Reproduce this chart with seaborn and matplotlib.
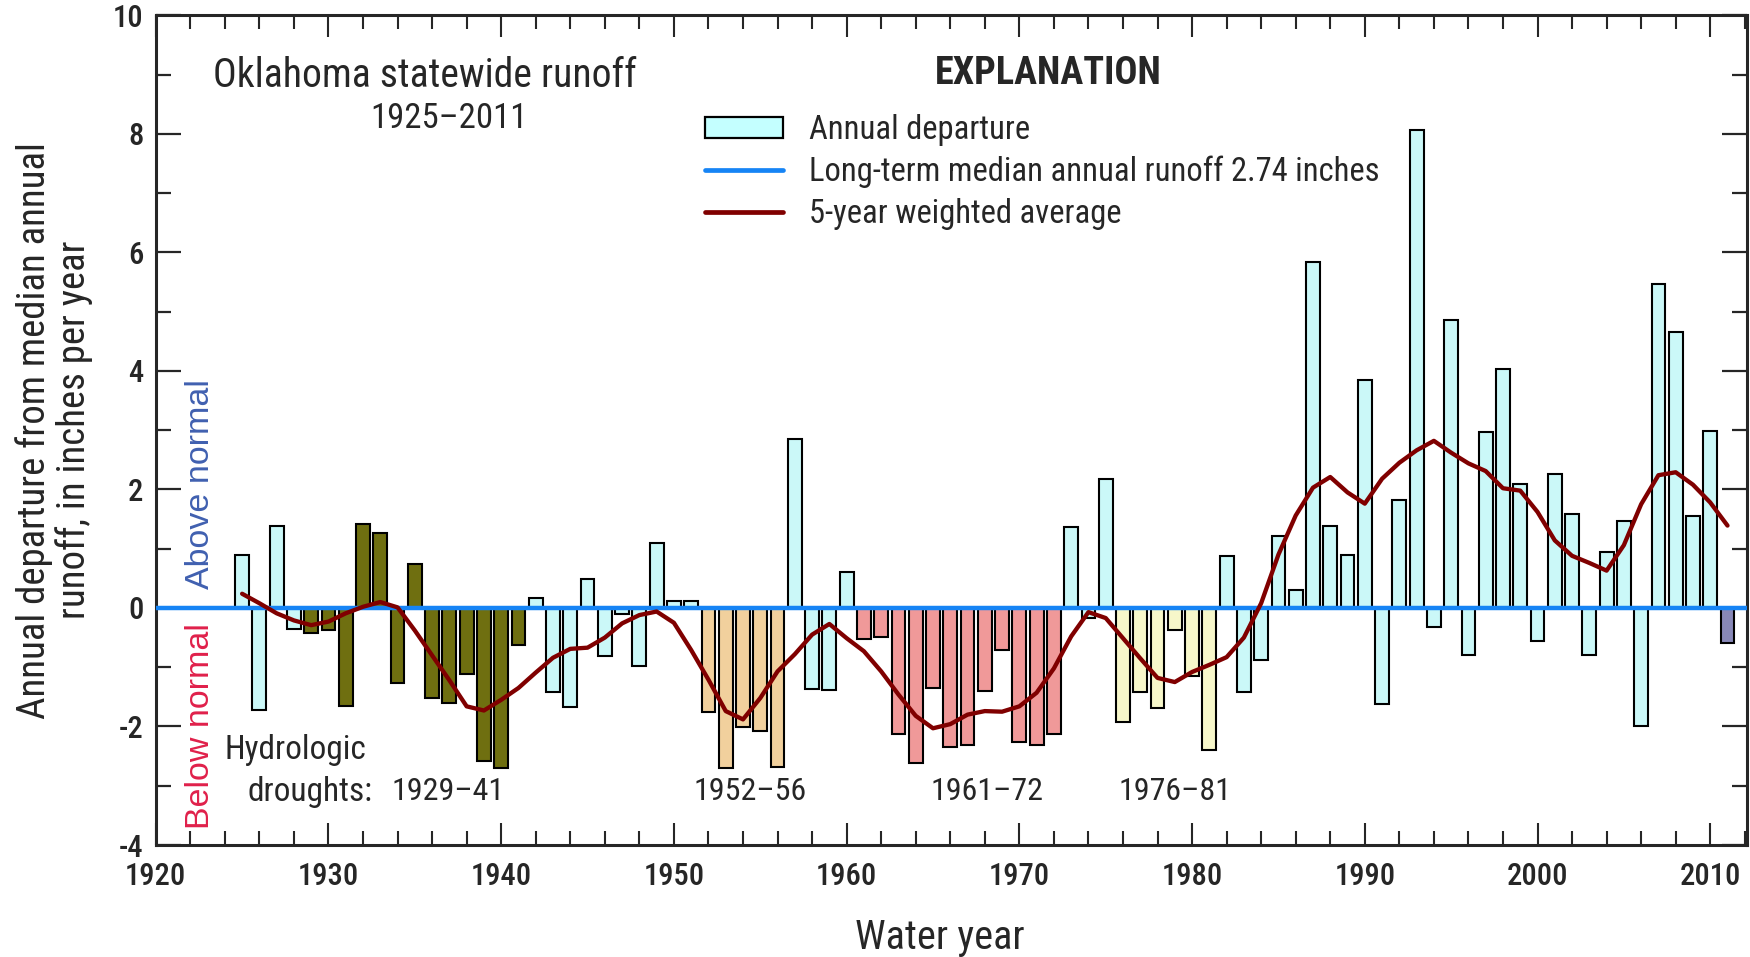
import numpy as np
import pandas as pd
import matplotlib
matplotlib.use("Agg")
import matplotlib.pyplot as plt
from matplotlib import font_manager
from matplotlib.patches import Patch
from matplotlib.lines import Line2D
from matplotlib.ticker import MultipleLocator
import seaborn as sns

# ---------------------------------------------------------------- data
years = list(range(1925, 2012))

# annual departure from the long-term median runoff (inches)
departure = [
    0.90, -1.72, 1.39, -0.35, -0.42, -0.37, -1.65, 1.41, 1.26, -1.26,   # 1925-1934
    0.74, -1.52, -1.60, -1.12, -2.59, -2.70, -0.62, 0.16, -1.42, -1.67,  # 1935-1944
    0.49, -0.81, -0.11, -0.98, 1.10, 0.12, 0.11, -1.76, -2.70, -2.01,    # 1945-1954
    -2.08, -2.69, 2.85, -1.37, -1.39, 0.61, -0.52, -0.49, -2.12, -2.62,  # 1955-1964
    -1.35, -2.34, -2.31, -1.40, -0.71, -2.26, -2.31, -2.13, 1.36, -0.17, # 1965-1974
    2.17, -1.93, -1.41, -1.68, -0.38, -1.14, -2.39, 0.87, -1.41, -0.88,  # 1975-1984
    1.22, 0.31, 5.84, 1.39, 0.89, 3.85, -1.62, 1.82, 8.06, -0.32,        # 1985-1994
    4.86, -0.79, 2.97, 4.04, 2.09, -0.56, 2.26, 1.59, -0.79, 0.94,       # 1995-2004
    1.46, -2.00, 5.47, 4.66, 1.55, 2.99, -0.59,                          # 2005-2011
]

# 5-year weighted average of the departures (inches)
weighted_avg = [
    0.24, 0.08, -0.09, -0.21, -0.29, -0.23, -0.09, 0.02, 0.10, 0.01,    # 1925-1934
    -0.38, -0.80, -1.22, -1.66, -1.73, -1.55, -1.35, -1.09, -0.84, -0.69, # 1935-1944
    -0.67, -0.50, -0.26, -0.12, -0.06, -0.25, -0.71, -1.21, -1.74, -1.88, # 1945-1954
    -1.52, -1.07, -0.78, -0.45, -0.27, -0.51, -0.73, -1.07, -1.46, -1.82, # 1955-1964
    -2.03, -1.96, -1.80, -1.74, -1.75, -1.66, -1.43, -1.02, -0.48, -0.07, # 1965-1974
    -0.17, -0.51, -0.85, -1.18, -1.25, -1.08, -0.96, -0.83, -0.50, 0.08,  # 1975-1984
    0.90, 1.56, 2.03, 2.21, 1.95, 1.76, 2.18, 2.45, 2.66, 2.82,           # 1985-1994
    2.62, 2.44, 2.31, 2.02, 1.98, 1.62, 1.14, 0.88, 0.76, 0.63,           # 1995-2004
    1.06, 1.75, 2.24, 2.29, 2.08, 1.78, 1.39,                             # 2005-2011
]

# hydrologic drought periods (first year, last year, label)
droughts = [(1929, 1941, "1929\u201341"), (1952, 1956, "1952\u201356"),
            (1961, 1972, "1961\u201372"), (1976, 1981, "1976\u201381")]
provisional_years = [2011]

median_runoff = 2.74

# ---------------------------------------------------------------- styling
palette = {
    "normal": "#C4FFFF",
    "1929\u201341": "#7F7F00",
    "1952\u201356": "#FFD38F",
    "1961\u201372": "#FF8A8A",
    "1976\u201381": "#FFFFC2",
    "provisional": "#8080C0",
}
median_color = "#1684F5"
avg_color = "#800000"

sns.set_style("ticks")
available = {f.name for f in font_manager.fontManager.ttflist}


def pick(*families):
    for fam in families:
        if fam in available:
            return fam
    return "DejaVu Sans"


cond = pick("Roboto Condensed", "Archivo Narrow", "Fira Sans Condensed",
            "IBM Plex Sans Condensed", "Sofia Sans Semi Condensed",
            "Sofia Sans Condensed", "DejaVu Sans")
regular = pick("Liberation Sans", "Roboto", "DejaVu Sans")
plt.rcParams["font.family"] = [cond, "DejaVu Sans"]
plt.rcParams["axes.unicode_minus"] = False


def period_of(year, value):
    if year in provisional_years:
        return "provisional"
    for start, end, label in droughts:
        if start <= year <= end:
            # the 1929-41 drought shades every year; elsewhere only deficits
            if label == "1929\u201341" or value < 0:
                return label
    return "normal"


df = pd.DataFrame({"year": years, "departure": departure, "wavg": weighted_avg})
df["period"] = [period_of(y, v) for y, v in zip(df["year"], df["departure"])]

fig = plt.figure(figsize=(17.5, 9.57), dpi=100)
ax = fig.add_axes([0.089, 0.117, 0.909, 0.867])

sns.barplot(data=df, x="year", y="departure", hue="period", palette=palette,
            native_scale=True, dodge=False, width=0.8, errorbar=None,
            edgecolor="black", linewidth=1.5, legend=False, ax=ax, zorder=2)

ax.axhline(0, color=median_color, lw=3.2, zorder=3)
sns.lineplot(data=df, x="year", y="wavg", color=avg_color, lw=3.1, ax=ax,
             zorder=4, legend=False)

# ---------------------------------------------------------------- axes
ax.set_xlim(1920, 2012.1)
ax.set_ylim(-4, 10)
ax.xaxis.set_major_locator(MultipleLocator(10))
ax.xaxis.set_minor_locator(MultipleLocator(2))
ax.yaxis.set_major_locator(MultipleLocator(2))
ax.yaxis.set_minor_locator(MultipleLocator(1))

for side in ax.spines.values():
    side.set_linewidth(2.2)
    side.set_visible(True)

ax.tick_params(axis="x", which="major", direction="in", length=16, width=1.5,
               top=True, bottom=True, pad=12, labelsize=22)
ax.tick_params(axis="x", which="minor", direction="in", length=10, width=1.5,
               top=True, bottom=True)
ax.tick_params(axis="y", which="major", direction="in", length=18, width=1.6,
               left=True, right=True, pad=9, labelsize=22)
ax.tick_params(axis="y", which="minor", direction="in", length=11, width=1.6,
               left=True, right=True)
for lab in ax.get_xticklabels() + ax.get_yticklabels():
    lab.set_fontweight("medium")

ax.set_xlabel("Water year", fontsize=29)
ax.xaxis.set_label_coords(0.493, -0.111)
ax.xaxis.label.set_verticalalignment("center")
ax.set_ylabel("Annual departure from median annual\nrunoff, in inches per year",
              fontsize=28, linespacing=1.05)
ax.yaxis.set_label_coords(-0.064, 0.5)
ax.yaxis.label.set_verticalalignment("center")

# ---------------------------------------------------------------- text
ax.text(1935.6, 8.98, "Oklahoma statewide runoff", fontsize=28.5,
        ha="center", va="center")
ax.text(1936.95, 8.26, "1925\u20132011", fontsize=25, ha="center", va="center")

ax.text(1922.6, 2.09, "Above normal", color="#4060B0", fontsize=24.5,
        family=[regular, "DejaVu Sans"], rotation=90, ha="center", va="center")
ax.text(1922.6, -2.0, "Below normal", color="#E0204A", fontsize=24.5,
        family=[regular, "DejaVu Sans"], rotation=90, ha="center", va="center")

ax.text(1924.0, -2.39, "Hydrologic", fontsize=24, ha="left", va="center")
ax.text(1925.3, -3.10, "droughts:", fontsize=24, ha="left", va="center")
label_x = [1936.9, 1954.4, 1968.1, 1979.0]
for (start, end, label), lx in zip(droughts, label_x):
    ax.text(lx, -3.10, label, fontsize=23, ha="center", va="center")

# ---------------------------------------------------------------- legend
ax.text(0.561, 0.930, "EXPLANATION", transform=ax.transAxes, fontsize=27.5,
        fontweight="bold", ha="center", va="center")
handles = [
    Patch(facecolor=palette["normal"], edgecolor="black", linewidth=1.6),
    Line2D([], [], color=median_color, lw=3.4),
    Line2D([], [], color=avg_color, lw=3.4),
]
labels = ["Annual departure",
          f"Long-term median annual runoff {median_runoff:.2f} inches",
          "5-year weighted average"]
leg = ax.legend(handles, labels, loc="upper left",
                bbox_to_anchor=(0.345, 0.881), frameon=False, fontsize=23.5,
                handlelength=2.4, handleheight=0.6, handletextpad=0.8,
                labelspacing=0.3, borderpad=0, borderaxespad=0)

fig.savefig("out.png", dpi=100)
